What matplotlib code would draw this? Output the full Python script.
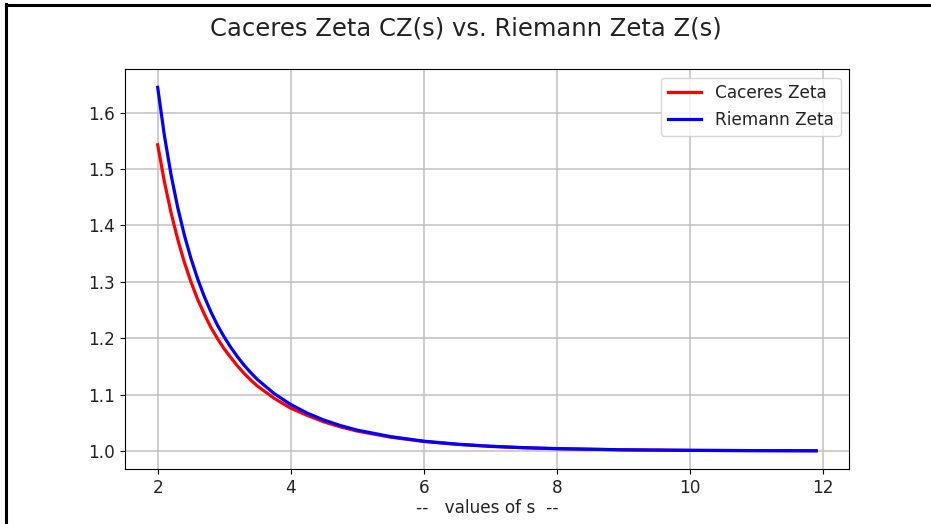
import matplotlib
matplotlib.use("Agg")
import matplotlib.pyplot as plt
from matplotlib.lines import Line2D

# values of s
s_values = [2.0, 2.1, 2.2, 2.3, 2.4, 2.5, 2.6, 2.7, 2.8, 2.9, 3.0,
            3.1, 3.2, 3.3, 3.4, 3.5, 3.75, 4.0, 4.25, 4.5, 4.75,
            5.0, 5.5, 6.0, 6.5, 7.0, 7.5, 8.0, 9.0, 10.0, 11.0, 11.9]

# Caceres Zeta CZ(s)
caceres_zeta = [1.543, 1.478, 1.423, 1.376, 1.335, 1.300, 1.269, 1.243,
                1.219, 1.199, 1.181, 1.1655, 1.1506, 1.1375, 1.1256,
                1.1150, 1.0935, 1.0758, 1.0630, 1.0515, 1.0425, 1.0352,
                1.0244, 1.0167, 1.0116, 1.0080, 1.0056, 1.0039, 1.0019,
                1.0010, 1.0005, 1.0002]

# Riemann Zeta Z(s)
riemann_zeta = [1.6449, 1.5602, 1.4905, 1.4324, 1.3833, 1.3415, 1.3054,
                1.2741, 1.2467, 1.2227, 1.2021, 1.1835, 1.1669, 1.1520,
                1.1387, 1.1267, 1.1018, 1.0823, 1.0670, 1.0547, 1.0449,
                1.0369, 1.0254, 1.0173, 1.0120, 1.0083, 1.0058, 1.0041,
                1.0020, 1.0010, 1.0005, 1.0003]

text_color = '#222222'

figure = plt.figure(figsize=(9.31, 5.24), dpi=100)
axs = figure.add_axes([0.134, 0.105, 0.778, 0.763])

axs.plot(s_values, caceres_zeta, color='red', linewidth=2.3, label='Caceres Zeta')
axs.plot(s_values, riemann_zeta, color='blue', linewidth=2.3, label='Riemann Zeta')

axs.grid(True, color='#c0c0c0', linewidth=1.1)
axs.set_xticks([2, 4, 6, 8, 10, 12])
axs.tick_params(labelsize=12.2, labelcolor=text_color)
leg = axs.legend(loc='upper right', fontsize=12.2)
for txt in leg.get_texts():
  txt.set_color(text_color)

axs.set_xlabel('--   values of s  --', fontsize=12.2, labelpad=2, color=text_color)
figure.suptitle('Caceres Zeta CZ(s) vs. Riemann Zeta Z(s)', fontsize=17.5,
                y=0.968, color=text_color)

# screenshot frame on the left and top edges
figure.add_artist(Line2D([0.0065, 0.0065], [0, 0.992], color='black',
                         linewidth=2.2, transform=figure.transFigure))
figure.add_artist(Line2D([0.0065, 1], [0.991, 0.991], color='black',
                         linewidth=2.2, transform=figure.transFigure))

plt.savefig('out.png', dpi=100)
plt.close()
